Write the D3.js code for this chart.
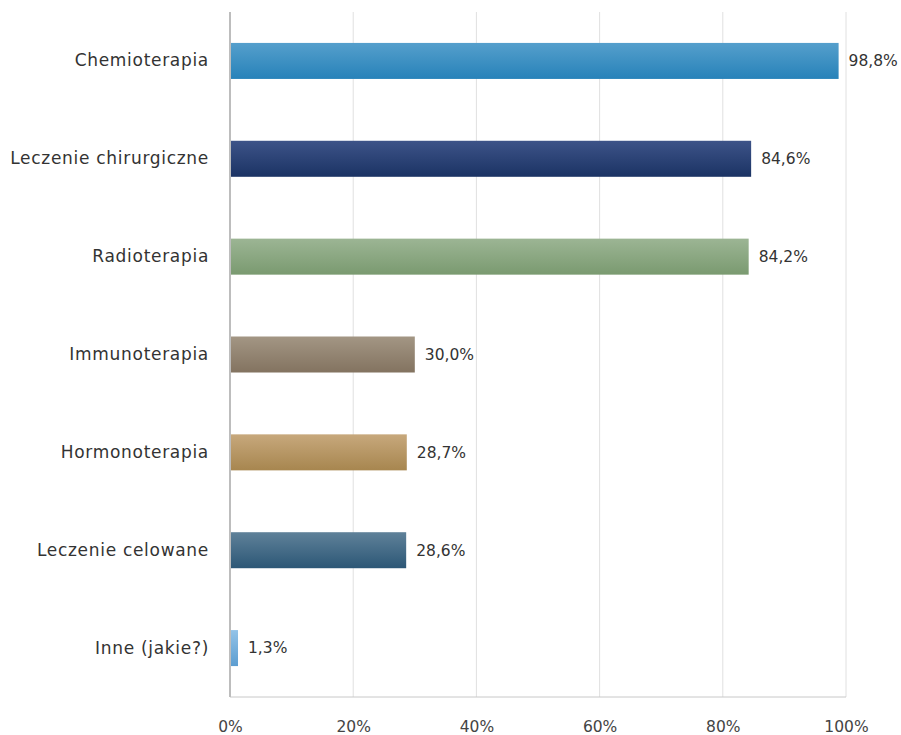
<!DOCTYPE html>
<html><head><meta charset="utf-8">
<script src="https://cdn.jsdelivr.net/npm/d3@7"></script>
<style>body{margin:0;background:#fff}svg{display:block}</style>
</head><body>
<script>
const categories = ["Chemioterapia","Leczenie chirurgiczne","Radioterapia","Immunoterapia","Hormonoterapia","Leczenie celowane","Inne (jakie?)"];
const values = [98.8, 84.6, 84.2, 30.0, 28.7, 28.6, 1.3];
const valueLabels = ["98,8%","84,6%","84,2%","30,0%","28,7%","28,6%","1,3%"];
const tickValues = [0,20,40,60,80,100];
const colorsTop = ["#559fcc","#3d5388","#9cb594","#a39684","#c7a87c","#5f8199","#93c3e8"];
const colorsBottom = ["#2782b9","#1b3364","#7a9a70","#837360","#a7864f","#2c5776","#5c9dd0"];

(function(){
const W=901,H=735, mLeft=230, mRight=846, mTop=12, mBottom=697;
const svg=d3.select("body").append("svg").attr("width",W).attr("height",H);
const font="'DejaVu Sans', sans-serif";
const fs=15.5;
const x=d3.scaleLinear().domain([0,100]).range([mLeft,mRight]);
const y=d3.scaleBand().domain(categories).range([mTop,mBottom]).paddingInner(0.632).paddingOuter(0.316);

const defs=svg.append("defs");
categories.forEach((c,i)=>{
  const g=defs.append("linearGradient").attr("id","g"+i).attr("x1",0).attr("x2",0).attr("y1",0).attr("y2",1);
  g.append("stop").attr("offset","0%").attr("stop-color",colorsTop[i]);
  g.append("stop").attr("offset","100%").attr("stop-color",colorsBottom[i]);
});

svg.append("g").selectAll("line").data(tickValues.slice(1)).join("line")
  .attr("x1",d=>x(d)).attr("x2",d=>x(d)).attr("y1",mTop).attr("y2",mBottom)
  .attr("stroke","#e0e0e0").attr("stroke-width",1);
svg.append("line").attr("x1",mLeft).attr("x2",mRight).attr("y1",mBottom).attr("y2",mBottom).attr("stroke","#c8c8c8");
const xa=svg.append("g").attr("transform",`translate(0,${mBottom})`)
  .call(d3.axisBottom(x).tickValues(tickValues).tickFormat(d=>d+"%").tickSize(0).tickPadding(24));
xa.select(".domain").remove();
xa.selectAll("text").attr("font-family",font).attr("font-size",fs).attr("fill","#444");

svg.append("g").selectAll("rect").data(values).join("rect")
  .attr("x",x(0)).attr("y",(d,i)=>y(categories[i]))
  .attr("width",d=>x(d)-x(0)).attr("height",y.bandwidth())
  .attr("fill",(d,i)=>`url(#g${i})`);

const ya=svg.append("g").attr("transform",`translate(${mLeft},0)`)
  .call(d3.axisLeft(y).tickSize(0).tickPadding(21));
ya.select(".domain").attr("stroke","#bdbdbd").attr("stroke-width",2).attr("d",`M0,${mTop}V${mBottom}`);
ya.selectAll("text").attr("font-family",font).attr("font-size",17).attr("letter-spacing","0.7px").attr("fill","#333");

svg.append("g").selectAll("text").data(values).join("text")
  .attr("x",d=>x(d)+10).attr("y",(d,i)=>y(categories[i])+y.bandwidth()/2)
  .attr("dy","0.35em").attr("font-family",font).attr("font-size",fs).attr("fill","#333")
  .text((d,i)=>valueLabels[i]);
})();
</script>
</body></html>
